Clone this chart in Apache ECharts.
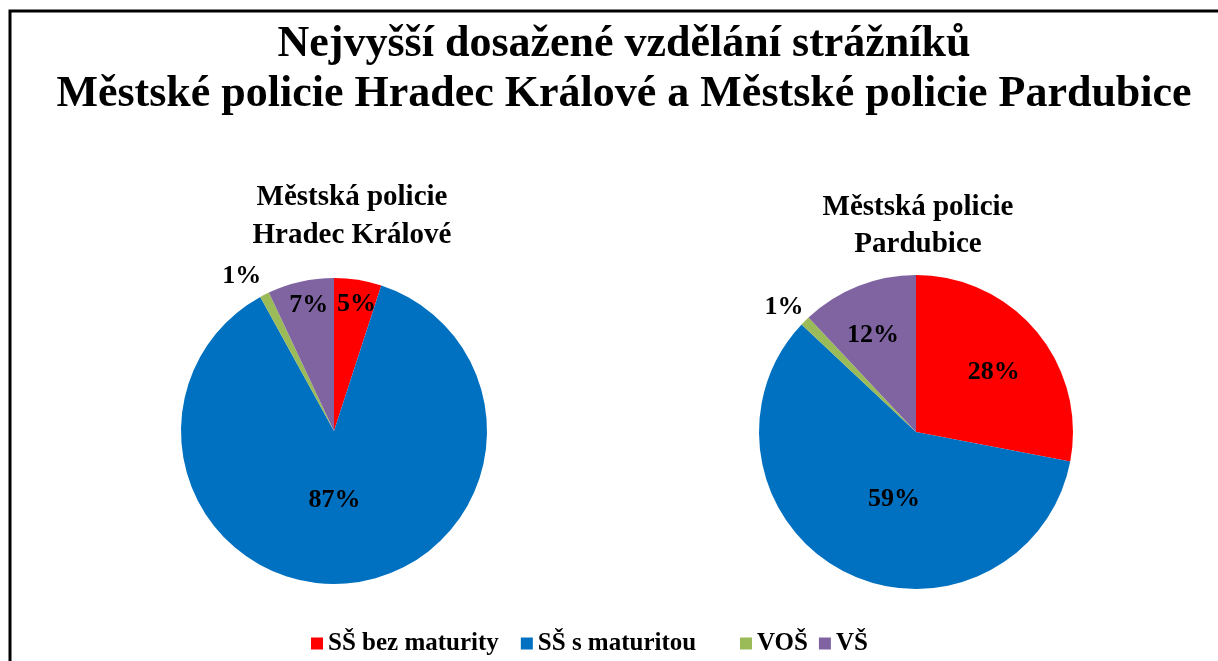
<!DOCTYPE html>
<html>
<head>
<meta charset="utf-8">
<script src="https://cdn.jsdelivr.net/npm/echarts@6/dist/echarts.min.js"></script>
<style>
html,body{margin:0;padding:0;background:#fff;}
#chart{width:1218px;height:661px;}
</style>
</head>
<body>
<div id="chart"></div>
<script>
// ---- data ----
var categories = ['SŠ bez maturity', 'SŠ s maturitou', 'VOŠ', 'VŠ'];
var hradecValues = [5, 87, 1, 7];
var pardubiceValues = [28, 59, 1, 12];
var pieTitles = ['Městská policie\nHradec Králové', 'Městská policie\nPardubice'];
var mainTitle = 'Nejvyšší dosažené vzdělání strážníků\nMěstské policie Hradec Králové a Městské policie Pardubice';

// ---- style ----
var colors = ['#FF0000', '#0070C0', '#9BBB59', '#8064A2'];
var serif = '"Liberation Serif", "DejaVu Serif", serif';
// label tweaks (styling only)
var hradecLabel = [
  {position: 'inside', offset: [10, -48]},
  {position: 'inside', offset: [-7, -10]},
  {position: 'outside', lineLen: 25, offset: [13, 4]},
  {position: 'inside', offset: [-8, -48]}
];
var pardubiceLabel = [
  {position: 'inside', offset: [15, -8]},
  {position: 'inside', offset: [15, -5]},
  {position: 'outside', lineLen: 12, offset: [12, -5]},
  {position: 'inside', offset: [-13, -21]}
];

function buildData(values, tweaks) {
  return values.map(function (v, i) {
    var t = tweaks[i];
    var item = {name: categories[i], value: v, itemStyle: {color: colors[i]}};
    if (t.position === 'inside') {
      item.label = {position: 'inside', offset: t.offset};
    } else {
      item.label = {position: 'outside', offset: t.offset};
      item.labelLine = {show: false, length: t.lineLen, length2: 0};
    }
    return item;
  });
}

var labelStyle = {
  show: true,
  formatter: function (p) { return Math.round(p.percent) + '%'; },
  fontFamily: serif,
  fontWeight: 'bold',
  fontSize: 26,
  color: '#000'
};

var legendText = {fontFamily: serif, fontWeight: 'bold', fontSize: 25, color: '#000'};

var chart = echarts.init(document.getElementById('chart'), null, {renderer: 'canvas'});
chart.setOption({
  backgroundColor: '#fff',
  animation: false,
  graphic: [{
    type: 'rect',
    shape: {x: 10, y: 11, width: 1400, height: 900},
    style: {fill: 'none', stroke: '#000', lineWidth: 3},
    silent: true
  }],
  title: [
    {
      text: mainTitle,
      left: 619,
      textAlign: 'center',
      top: 15,
      textStyle: {fontFamily: serif, fontWeight: 'bold', fontSize: 44, lineHeight: 50, color: '#000'}
    },
    {
      text: pieTitles[0],
      left: 347, top: 174,
      textAlign: 'center',
      textStyle: {fontFamily: serif, fontWeight: 'bold', fontSize: 29, lineHeight: 38, color: '#000'}
    },
    {
      text: pieTitles[1],
      left: 913, top: 184,
      textAlign: 'center',
      textStyle: {fontFamily: serif, fontWeight: 'bold', fontSize: 29, lineHeight: 37, color: '#000'}
    }
  ],
  legend: [
    {
      data: categories.slice(0, 2),
      top: 626, left: 306,
      itemWidth: 12, itemHeight: 12, itemGap: 22,
      icon: 'rect',
      textStyle: legendText
    },
    {
      data: categories.slice(2),
      top: 626, left: 735,
      itemWidth: 12, itemHeight: 12, itemGap: 11,
      icon: 'rect',
      textStyle: legendText
    }
  ],
  series: [
    {
      type: 'pie',
      center: [334, 431],
      radius: 153,
      startAngle: 90,
      clockwise: true,
      avoidLabelOverlap: false,
      itemStyle: {borderWidth: 0},
      label: labelStyle,
      emphasis: {disabled: true},
      data: buildData(hradecValues, hradecLabel)
    },
    {
      type: 'pie',
      center: [916, 432],
      radius: 157,
      startAngle: 90,
      clockwise: true,
      avoidLabelOverlap: false,
      itemStyle: {borderWidth: 0},
      label: labelStyle,
      emphasis: {disabled: true},
      data: buildData(pardubiceValues, pardubiceLabel)
    }
  ]
});
</script>
</body>
</html>
